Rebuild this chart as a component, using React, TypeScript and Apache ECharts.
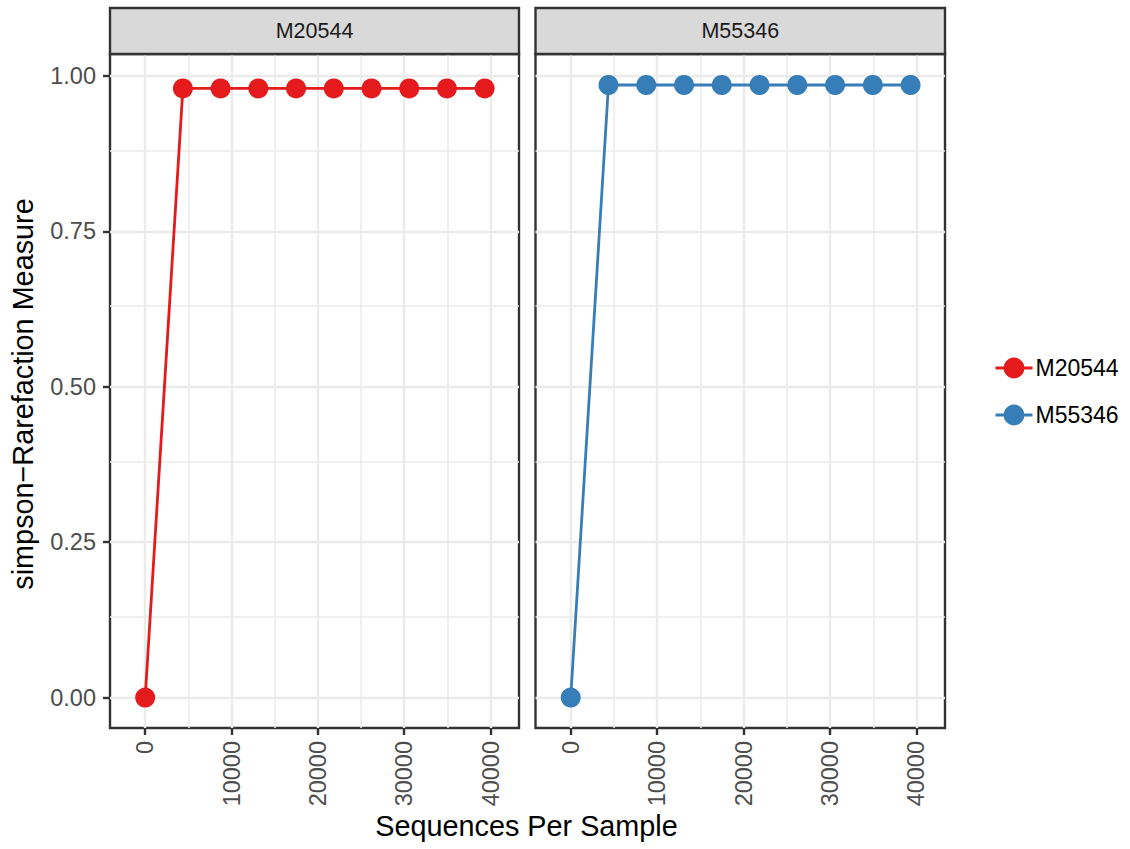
import React, { useEffect, useRef } from "react";
import * as echarts from "echarts";

const sampleNames = ["M20544", "M55346"];
const sampleColors = ["#E41A1C", "#377EB8"];
const depths = [1, 4369, 8738, 13107, 17476, 21845, 26214, 30583, 34952, 39321];
const m20544Values = [0, 0.98, 0.98, 0.98, 0.98, 0.98, 0.98, 0.98, 0.98, 0.98];
const m55346Values = [0, 0.9855, 0.9855, 0.9855, 0.9855, 0.9855, 0.9855, 0.9855, 0.9855, 0.9855];
const xMajorTicks = [0, 10000, 20000, 30000, 40000];
const xMinorTicks = [5000, 15000, 25000, 35000];
const yMajorTicks = [0, 0.25, 0.5, 0.75, 1];
const yMinorTicks = [0.125, 0.375, 0.625, 0.875];
const xRange = [-4074, 43300];
const yRange = [-0.0489, 1.0354];
const yTitle = "simpson\u2212Rarefaction Measure";
const xTitle = "Sequences Per Sample";

const panels = [
  { left: 110, width: 409 },
  { left: 535.5, width: 409.5 },
];
const panelTop = 54;
const panelHeight = 674;
const FONT = "'Liberation Sans', Arial, Helvetica, sans-serif";

export default function App() {
  const ref = useRef<HTMLDivElement>(null);
  useEffect(() => {
    if (!ref.current) return;
    const chart = echarts.init(ref.current, null, { renderer: "svg" });
    const valuesList = [m20544Values, m55346Values];

    const grids = panels.map((p) => ({
      left: p.left,
      top: panelTop,
      width: p.width,
      height: panelHeight,
      show: true,
      borderColor: "#333333",
      borderWidth: 2.4,
      backgroundColor: "transparent",
      containLabel: false,
    }));

    const xAxes = panels.map((_, i) => ({
      type: "value",
      gridIndex: i,
      min: xRange[0],
      max: xRange[1],
      axisLine: { show: false, onZero: false },
      axisTick: {
        show: true,
        customValues: xMajorTicks,
        length: 7,
        lineStyle: { color: "#333333", width: 2.4 },
      },
      axisLabel: {
        show: true,
        customValues: xMajorTicks,
        rotate: 90,
        margin: 13,
        fontSize: 23.5,
        fontFamily: FONT,
        color: "#4D4D4D",
        formatter: (v: number) => String(v),
      },
      splitLine: { show: false },
    }));

    const yAxes = panels.map((_, i) => ({
      type: "value",
      gridIndex: i,
      min: yRange[0],
      max: yRange[1],
      axisLine: { show: false, onZero: false },
      axisTick: {
        show: i === 0,
        customValues: yMajorTicks,
        length: 7,
        lineStyle: { color: "#333333", width: 2.4 },
      },
      axisLabel: {
        show: i === 0,
        customValues: yMajorTicks,
        margin: 14,
        fontSize: 23.5,
        fontFamily: FONT,
        color: "#4D4D4D",
        formatter: (v: number) => v.toFixed(2),
      },
      splitLine: { show: false },
    }));

    const gridLineSeries = panels.map((_, i) => ({
      type: "line",
      name: "grid" + i,
      xAxisIndex: i,
      yAxisIndex: i,
      data: [],
      symbol: "none",
      silent: true,
      z: 0,
      markLine: {
        silent: true,
        symbol: ["none", "none"],
        label: { show: false },
        z: 0,
        animation: false,
        data: [
          ...xMinorTicks.map((v) => ({ xAxis: v, lineStyle: { color: "#EBEBEB", width: 1.6, type: "solid" } })),
          ...yMinorTicks.map((v) => ({ yAxis: v, lineStyle: { color: "#EBEBEB", width: 1.6, type: "solid" } })),
          ...xMajorTicks.map((v) => ({ xAxis: v, lineStyle: { color: "#EBEBEB", width: 2.4, type: "solid" } })),
          ...yMajorTicks.map((v) => ({ yAxis: v, lineStyle: { color: "#EBEBEB", width: 2.4, type: "solid" } })),
        ],
      },
    }));

    const dataSeries = sampleNames.map((name, i) => ({
      type: "line",
      name,
      xAxisIndex: i,
      yAxisIndex: i,
      data: depths.map((d, j) => [d, valuesList[i][j]]),
      symbol: "circle",
      symbolSize: 20,
      showSymbol: true,
      itemStyle: { color: sampleColors[i] },
      lineStyle: { color: sampleColors[i], width: 2.8 },
      z: 3,
    }));

    const graphics: any[] = [];
    panels.forEach((p, i) => {
      graphics.push({
        type: "rect",
        shape: { x: p.left, y: 8, width: p.width, height: panelTop - 8 },
        style: { fill: "#D9D9D9", stroke: "#333333", lineWidth: 2.4 },
        z: 10,
      });
      graphics.push({
        type: "text",
        x: p.left + p.width / 2,
        y: (8 + panelTop) / 2,
        style: {
          text: sampleNames[i],
          fontSize: 21.5,
          fontFamily: FONT,
          fill: "#1A1A1A",
          align: "center",
          verticalAlign: "middle",
        },
        z: 11,
      });
    });
    graphics.push({
      type: "text",
      x: 23,
      y: 394,
      rotation: Math.PI / 2,
      style: {
        text: yTitle,
        fontSize: 28.8,
        fontFamily: FONT,
        fill: "#000000",
        align: "center",
        verticalAlign: "middle",
      },
    });
    graphics.push({
      type: "text",
      x: 526.5,
      y: 826,
      style: {
        text: xTitle,
        fontSize: 28.8,
        fontFamily: FONT,
        fill: "#000000",
        align: "center",
        verticalAlign: "middle",
      },
    });

    chart.setOption({
      animation: false,
      textStyle: { fontFamily: FONT },
      grid: grids,
      xAxis: xAxes,
      yAxis: yAxes,
      legend: {
        data: sampleNames,
        orient: "vertical",
        left: 994,
        top: 355,
        padding: 0,
        itemWidth: 37,
        itemHeight: 26,
        itemGap: 21,
        lineStyle: { width: 3 },
        textStyle: { fontSize: 23, fontFamily: FONT, color: "#000000", lineHeight: 26, padding: [0, 0, 0, -2] },
      },
      graphic: graphics,
      series: [...gridLineSeries, ...dataSeries],
    });
    return () => chart.dispose();
  }, []);
  return (
    <div
      ref={ref}
      style={{ position: "absolute", left: 0, top: 0, width: 1130, height: 849 }}
    />
  );
}
